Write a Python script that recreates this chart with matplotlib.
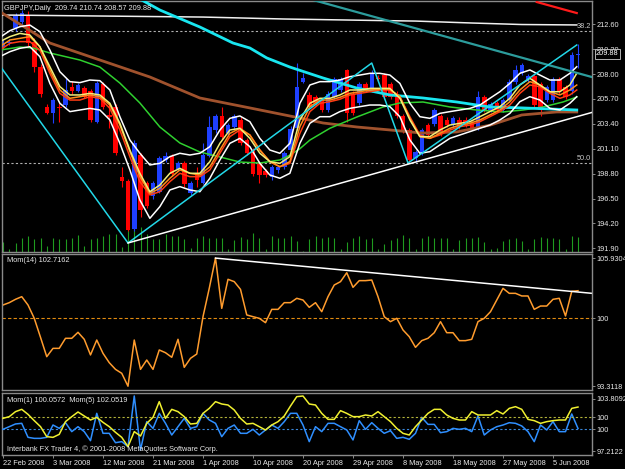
import matplotlib
matplotlib.use("Agg")
import matplotlib.pyplot as plt
from matplotlib.transforms import blended_transform_factory

plt.rcParams['font.family'] = ['Liberation Sans', 'DejaVu Sans']

# ---------------- data ----------------
date_labels = ['22 Feb 2008', '3 Mar 2008', '12 Mar 2008', '21 Mar 2008', '1 Apr 2008',
               '10 Apr 2008', '20 Apr 2008', '29 Apr 2008', '8 May 2008', '18 May 2008',
               '27 May 2008', '5 Jun 2008']
date_bars = [0, 8, 16, 24, 32, 40, 48, 56, 64, 72, 80, 88]

opens = [210.6, 210.9, 212.3, 212.8, 213.5, 211.0, 208.7, 205.0, 204.4, 205.0,
         205.1, 206.8, 206.4, 206.7, 206.4, 203.6, 207.1, 204.2, 205.0, 198.5,
         198.1, 193.7, 200.5, 197.9, 196.7, 197.1, 200.1, 200.4, 199.2, 199.8,
         197.0, 198.8, 197.9, 200.4, 202.8, 204.1, 202.6, 203.1, 203.8, 201.9,
         201.0, 199.8, 199.0, 198.5, 199.1, 199.4, 201.0, 203.0, 207.3, 206.1,
         205.9, 205.6, 204.7, 205.9, 206.5, 208.4, 206.2, 205.3, 207.1, 206.5,
         207.6, 207.9, 207.1, 206.2, 204.1, 202.8, 200.2, 200.7, 203.3, 203.4,
         204.1, 203.8, 203.3, 203.8, 203.8, 203.5, 203.0, 205.9, 204.7, 205.3,
         204.7, 205.6, 207.3, 208.1, 207.5, 207.8, 207.1, 205.6, 205.6, 207.5,
         206.8, 206.4, 209.74]
highs = [211.2, 211.2, 213.6, 213.9, 213.8, 211.3, 208.9, 205.2, 205.8, 205.3,
         207.6, 207.4, 207.2, 206.9, 206.6, 207.4, 207.3, 205.3, 205.2, 199.4,
         198.3, 201.9, 200.7, 198.1, 198.1, 200.4, 200.8, 200.6, 200.0, 200.0,
         198.1, 199.4, 201.6, 204.1, 204.3, 205.0, 203.5, 204.3, 204.0, 202.1,
         201.2, 200.0, 199.2, 199.6, 199.6, 200.9, 203.2, 209.0, 208.1, 206.3,
         206.1, 205.8, 206.4, 207.7, 207.7, 208.5, 206.4, 207.3, 207.3, 208.4,
         207.9, 208.1, 207.3, 206.4, 204.3, 203.0, 201.0, 203.0, 203.5, 204.9,
         204.3, 204.0, 204.1, 204.0, 204.0, 203.7, 206.4, 206.1, 205.4, 205.5,
         205.8, 207.5, 208.8, 209.0, 208.0, 208.0, 207.3, 207.0, 207.7, 207.7,
         207.0, 210.0, 210.74]
lows = [210.3, 210.7, 212.0, 212.6, 210.6, 208.2, 205.9, 204.3, 203.5, 203.6,
        205.0, 206.2, 206.3, 205.8, 203.6, 203.5, 204.8, 203.0, 200.5, 197.6,
        193.5, 193.5, 194.8, 195.6, 196.5, 197.0, 199.9, 198.6, 199.0, 197.6,
        196.8, 197.6, 197.8, 200.3, 202.6, 202.0, 202.4, 202.9, 201.4, 200.5,
        198.6, 197.9, 198.5, 198.2, 198.9, 199.2, 200.8, 202.8, 207.2, 204.8,
        205.1, 204.5, 204.5, 205.7, 206.3, 203.6, 204.2, 205.1, 206.3, 206.3,
        207.3, 205.7, 205.7, 203.9, 202.6, 199.8, 199.9, 200.5, 202.2, 203.2,
        202.3, 203.1, 203.1, 202.9, 203.1, 202.8, 202.8, 204.5, 204.5, 204.5,
        204.5, 205.4, 207.1, 207.9, 207.3, 204.9, 204.1, 205.4, 205.4, 206.2,
        205.7, 206.2, 208.57]
closes = [210.9, 211.0, 213.4, 213.6, 210.9, 208.7, 206.2, 204.4, 205.6, 204.9,
          206.5, 206.4, 207.0, 205.9, 203.8, 207.2, 205.0, 204.0, 200.7, 198.1,
          193.6, 201.6, 195.4, 195.8, 197.9, 200.2, 200.4, 198.8, 199.8, 197.8,
          197.9, 198.2, 200.5, 203.1, 204.1, 202.2, 203.3, 204.1, 201.6, 200.7,
          198.8, 198.7, 198.7, 199.4, 199.4, 200.7, 202.9, 206.8, 207.6, 205.0,
          205.3, 204.7, 206.2, 207.5, 207.5, 204.4, 204.4, 207.1, 206.5, 208.1,
          207.5, 205.9, 205.9, 204.1, 202.8, 200.1, 200.8, 202.8, 202.4, 204.7,
          202.5, 203.3, 203.9, 203.1, 203.3, 203.0, 205.9, 204.7, 205.2, 204.7,
          205.6, 207.3, 208.4, 208.8, 207.8, 205.1, 204.7, 206.8, 207.5, 206.4,
          205.9, 209.8, 209.88]
volumes = [10, 3, 9.3, 14.3, 16, 13, 14.3, 6, 14.3, 13,
           13, 14.3, 17, 6, 13, 14.3, 16, 18.3, 17.7, 5,
           24.3, 23, 25, 18, 13, 13, 18, 16, 16, 13,
           4, 14.3, 16, 14.3, 14.3, 13.7, 3, 11.7, 15, 12.7,
           19, 13.7, 3, 16.3, 14.3, 14.3, 16, 11, 1, 13.3,
           15.7, 14.3, 15, 13.7, 3, 10.3, 14.3, 16, 13, 14.3,
           3, 7.7, 11.7, 13.7, 16.5, 13.7, 3, 14.3, 16, 13.7,
           13.7, 13.7, 3, 11.7, 14.3, 14.3, 15.3, 10.3, 3, 4.3,
           11, 12.7, 13.7, 11, 3, 12.7, 15, 14.3, 13.7, 12.7,
           3, 16, 15]

# smoothed bands / averages sampled along the chart
band_x = [-0.5, 1.1, 2.7, 4.3, 5.9, 7.5, 9.1, 10.7, 12.3, 13.9, 15.5, 17.1, 18.7, 20.3,
          21.9, 23.5, 25.1, 26.7, 28.3, 29.9, 31.5, 33.1, 34.7, 36.3, 37.9, 39.5, 41.1,
          42.7, 44.3, 45.9, 47.5, 49.1, 50.7, 52.3, 53.9, 55.5, 57.1, 58.7, 60.3, 61.9,
          63.5, 65.1, 66.7, 68.3, 69.9, 71.5, 73.1, 74.7, 76.3, 77.9, 79.5, 81.1, 82.7,
          84.3, 85.9, 87.5, 89.1, 90.7, 91.8]
upper_band = [211.39, 212.01, 212.38, 212.53, 211.92, 210.22, 208.22, 207.30, 207.21, 207.45,
              207.39, 206.53, 204.06, 201.91, 200.68, 199.60, 199.75, 200.37, 200.68, 200.52,
              200.68, 201.29, 202.83, 203.91, 204.13, 203.60, 202.06, 200.98, 200.68,
              201.60, 205.30, 206.99, 207.30, 207.30, 207.45, 207.76, 207.91, 208.07, 208.07,
              207.91, 207.14, 205.30, 204.06, 203.91, 204.37, 204.53, 204.68, 204.83, 205.14,
              205.76, 206.37, 207.14, 208.07, 208.38, 207.91, 207.45, 207.45, 208.07, 208.68]
yellow_ma = [211.00, 211.46, 211.76, 211.61, 210.53, 208.68, 206.84, 206.07, 206.07, 206.22,
             206.07, 205.30, 203.45, 200.98, 198.83, 197.13, 197.75, 198.83, 199.29, 198.83,
             198.83, 199.91, 201.60, 202.83, 202.99, 202.06, 200.68, 199.91, 199.75,
             200.37, 203.76, 205.30, 205.76, 205.76, 206.07, 206.53, 206.53, 206.68, 206.68,
             206.68, 205.76, 203.76, 202.22, 202.22, 202.83, 203.29, 203.45, 203.60, 204.06,
             204.53, 204.99, 205.76, 206.99, 207.61, 206.99, 206.37, 206.37, 206.99, 208.07]
orange_ma = [210.53, 211.15, 211.30, 211.46, 210.53, 208.38, 206.53, 205.76, 205.91, 206.07,
             205.91, 205.14, 203.29, 200.83, 198.52, 196.98, 197.44, 198.37, 199.14, 198.83,
             198.67, 199.44, 200.98, 202.52, 202.99, 202.37, 200.98, 199.91, 199.44,
             199.91, 203.14, 204.99, 205.60, 205.60, 205.85, 206.22, 206.37, 206.53, 206.59,
             206.59, 205.91, 203.91, 202.22, 202.06, 202.52, 202.99, 203.29, 203.45, 203.76,
             204.22, 204.68, 205.45, 206.53, 207.30, 206.99, 206.37, 206.07, 206.53, 206.99]
red_ma = [210.22, 210.84, 211.00, 211.00, 210.22, 208.07, 206.22, 205.60, 205.60, 205.91,
          205.76, 204.83, 202.83, 200.37, 198.06, 196.83, 197.13, 198.06, 198.83, 198.52,
          198.52, 199.14, 200.68, 202.22, 202.83, 202.37, 200.98, 199.91, 199.44,
          199.75, 202.52, 204.53, 205.30, 205.45, 205.67, 206.07, 206.22, 206.37, 206.53,
          206.53, 205.91, 204.06, 202.37, 202.06, 202.37, 202.83, 203.14, 203.29, 203.60,
          204.06, 204.53, 205.14, 206.22, 206.99, 206.84, 206.22, 205.76, 206.07, 206.53]
lower_band = [209.61, 210.07, 210.38, 210.53, 209.61, 207.14, 205.30, 204.53, 204.68, 204.83,
              204.68, 203.76, 201.60, 199.14, 196.36, 194.67, 195.75, 197.29, 197.60, 197.29,
              197.13, 198.37, 200.06, 201.60, 202.06, 201.29, 199.75, 198.67, 198.37,
              198.83, 201.60, 203.45, 204.06, 204.06, 204.53, 204.83, 204.99, 205.14, 205.14,
              204.99, 204.06, 201.91, 200.68, 200.83, 201.45, 202.06, 202.37, 202.68, 202.99,
              203.29, 203.76, 204.37, 205.45, 205.91, 205.60, 204.83, 204.68, 205.30, 205.91]

green_x = [-0.5, 2.7, 4.8, 7.5, 12.3, 15.5, 18.7, 21.9, 25.1, 28.3, 31.5, 34.7, 37.9, 41.1,
           44.3, 45.9, 47.5, 49.1, 52.3, 56.6, 60.8, 63.5, 67.2, 71.5, 75.8, 80.0, 83.2, 86.4,
           89.6, 91.8]
green_ma = [210.22, 210.50, 210.41, 209.95, 209.30, 208.65, 207.17, 205.33, 203.11, 201.63,
            200.80, 200.34, 199.87, 199.78, 200.06, 200.50, 201.10, 201.90, 202.99, 204.03,
            204.96, 205.33, 205.42, 204.96, 204.68, 204.50, 204.68, 204.96, 205.42, 205.88]
brown_x = [-0.5, 7.5, 15.5, 23.5, 31.5, 39.5, 47.5, 51.2, 56.6, 62.0, 67.0, 72.6, 78.0,
           83.0, 88.6, 91.8]
brown_ma = [213.77, 210.87, 209.30, 207.73, 205.79, 204.87, 203.94, 203.48, 203.11, 202.83,
            202.55, 202.65, 203.29, 204.22, 204.50, 204.50]
cyan_x = [21.9, 25.1, 31.5, 36.8, 39.5, 42.2, 45.9, 51.2, 56.6, 61.9, 67.2, 72.6, 77.9,
          83.2, 91.8]
cyan_ma = [214.94, 213.92, 212.35, 210.87, 210.41, 209.49, 208.65, 207.64, 206.71, 206.07,
           205.79, 205.42, 204.96, 204.87, 204.68]
white_ma_x = [-0.5, 32, 45, 60, 66, 75, 83, 91.8]
white_ma = [213.46, 213.27, 213.09, 212.95, 212.90, 212.72, 212.58, 212.54]
red_long_x = [85.4, 91.8]
red_long = [214.66, 213.64]

zigzag_x = [-0.5, 20, 59, 64.8, 91.8]
zigzag_y = [208.77, 192.39, 209.02, 199.78, 210.69]
support_x = [20, 94.2]
support_y = [192.39, 204.45]
resist_x = [49.6, 94.2]
resist_y = [214.85, 207.73]
fib_levels = [211.98, 199.76]
fib_names = ['38.2', '50.0']

price_ticks = [191.90, 194.20, 196.50, 198.80, 201.10, 203.40, 205.70, 208.00, 210.30, 212.60]
last_price = 209.88

mom14 = [101.31, 101.54, 101.87, 102.13, 101.31, 100.00, 98.13, 96.22, 97.04, 97.04,
         98.03, 98.03, 98.62, 97.93, 96.39, 97.86, 96.55, 95.63, 94.97, 94.58,
         93.31, 97.86, 94.97, 95.89, 94.97, 96.88, 96.61, 96.16, 97.93, 95.17,
         96.06, 96.48, 100.16, 102.95, 105.93, 100.98, 103.84, 103.61, 102.85, 100.33,
         100.16, 100.00, 99.57, 100.88, 100.88, 101.54, 101.54, 101.97, 101.80, 101.08,
         101.54, 100.65, 102.13, 103.28, 103.61, 104.49, 103.05, 103.71, 103.71, 103.77,
         102.13, 100.16, 99.67, 100.00, 98.85, 98.19, 97.14, 97.80, 98.03, 98.58,
         99.67, 98.58, 98.58, 97.80, 97.80, 97.93, 99.67, 100.00, 100.65, 101.80,
         102.95, 102.46, 102.46, 102.20, 102.20, 100.88, 101.21, 101.21, 101.87, 101.97,
         100.23, 102.65, 102.72]
mom14_tl_x = [34, 94.4]
mom14_tl_y = [105.93, 102.45]

mom1 = [99.96, 100.29, 100.63, 100.71, 98.96, 98.83, 98.83, 98.96, 100.50, 100.08,
        100.79, 99.67, 100.29, 99.67, 98.54, 101.96, 99.46, 99.46, 98.29, 98.42,
        97.79, 104.13, 97.38, 100.92, 100.08, 101.96, 100.71, 99.25, 100.29, 101.33,
        100.08, 100.29, 101.96, 101.13, 100.71, 99.04, 100.08, 100.50, 99.46, 99.46,
        99.96, 99.25, 99.88, 100.50, 100.08, 100.92, 101.96, 101.96, 100.50, 98.42,
        100.29, 99.67, 100.71, 100.71, 100.29, 99.88, 98.63, 101.04, 99.96, 100.79,
        100.08, 99.46, 99.79, 98.83, 98.96, 98.71, 99.46, 101.46, 100.58, 100.58,
        99.54, 99.67, 100.08, 99.96, 100.08, 99.67, 101.63, 99.25, 99.88, 100.29,
        100.50, 100.79, 100.71, 100.38, 99.67, 98.42, 100.50, 99.88, 100.92, 99.67,
        99.67, 101.88, 100.06]
mom5 = [99.79, 100.13, 101.13, 101.59, 100.59, 99.33, 98.13, 96.13, 95.99, 96.59,
        99.13, 100.13, 101.06, 100.26, 99.46, 99.99, 98.99, 98.13, 96.99, 95.99,
        94.13, 97.13, 96.26, 98.79, 99.99, 103.13, 99.79, 101.59, 101.13, 100.13,
        98.66, 98.79, 100.79, 101.79, 103.13, 102.66, 102.46, 101.46, 99.79, 98.66,
        98.79, 98.13, 97.46, 98.46, 99.13, 100.26, 102.26, 104.13, 104.26, 102.66,
        102.46, 100.79, 99.59, 99.59, 101.33, 100.79, 100.13, 100.13, 100.46, 100.26,
        101.13, 100.13, 99.13, 97.79, 96.79, 96.46, 98.13, 99.46, 100.79, 101.59,
        101.59, 100.46, 99.79, 99.46, 99.46, 101.13, 100.46, 100.46, 100.46, 101.33,
        100.66, 101.79, 102.13, 101.59, 99.59, 99.33, 98.79, 99.13, 99.33, 99.46,
        99.46, 101.79, 102.05]

# ---------------- drawing ----------------
W, H = 625, 469
BG = 'black'
FRAME = '#8a8a8a'
TXT = '#e8e8e8'
FS = 5.3
BULL = '#1e40ff'
BEAR = '#ff0000'

fig = plt.figure(figsize=(W / 100, H / 100), dpi=100, facecolor=BG)


def rect(top, bottom):
    return [2 / W, 1 - bottom / H, 590 / W, (bottom - top) / H]


def right_ticks(ax):
    ax.yaxis.tick_right()
    ax.tick_params(axis='y', colors=FRAME, labelcolor=TXT, labelsize=FS,
                   length=2.2, width=0.7, pad=1.2)


def style(ax, ylim):
    ax.set_xlim(-0.16, 94.24)
    ax.set_ylim(*ylim)
    for s in ax.spines.values():
        s.set_color(FRAME)
        s.set_linewidth(1.0)
    right_ticks(ax)
    ax.set_xticks([])


# volumes sit behind the price panel
axv = fig.add_axes(rect(1, 252))
axv.set_facecolor(BG)
axv.set_xlim(-0.16, 94.24)
axv.set_ylim(0, 251)
axv.axis('off')
n = len(closes)
bars = list(range(n))
axv.vlines(bars, 0, volumes, color='#1f9a1f', lw=0.8)

ax1 = fig.add_axes(rect(1, 252))
ax1.set_facecolor('none')
style(ax1, (191.556, 214.754))
ax1.set_yticks(price_ticks)
ax1.set_yticklabels(['%.2f' % t for t in price_ticks])

for lvl in fib_levels:
    ax1.axhline(lvl, color='#b0b0b0', lw=0.8, ls=(0, (2, 2)), zorder=1)
tr = blended_transform_factory(ax1.transAxes, ax1.transData)
for lvl, name in zip(fib_levels, fib_names):
    ax1.text(0.998, lvl + 0.12, name, transform=tr, ha='right', va='bottom',
             color='#c8c8c8', fontsize=FS)

for i in bars:
    o, h, l, c = opens[i], highs[i], lows[i], closes[i]
    col = BULL if c >= o else BEAR
    ax1.vlines(i, l, h, color=col, lw=0.8, zorder=2)
    ax1.bar(i, max(abs(c - o), 0.06), bottom=min(o, c), width=0.72,
            color=col, lw=0, zorder=2)

ax1.plot(white_ma_x, white_ma, color='#f0f0f0', lw=1.1, zorder=3)
ax1.plot(red_long_x, red_long, color='#ff1a1a', lw=1.6, zorder=3)
ax1.plot(brown_x, brown_ma, color='#a0522d', lw=2.0, zorder=3)
ax1.plot(green_x, green_ma, color='#2fd02f', lw=1.1, zorder=3)
ax1.plot(cyan_x, cyan_ma, color='#19e6f0', lw=2.0, zorder=3)
ax1.plot(band_x, upper_band, color='white', lw=1.1, zorder=3)
ax1.plot(band_x, lower_band, color='white', lw=1.1, zorder=3)
ax1.plot(band_x, red_ma, color='#ff3c14', lw=1.1, zorder=3)
ax1.plot(band_x, orange_ma, color='#ff8c1a', lw=1.1, zorder=3)
ax1.plot(band_x, yellow_ma, color='#f2ee7a', lw=1.1, zorder=3)

ax1.plot(resist_x, resist_y, color='#2c9c9c', lw=1.6, zorder=4)
ax1.plot(zigzag_x, zigzag_y, color='#22d8e8', lw=1.1, zorder=4)
ax1.plot(support_x, support_y, color='white', lw=1.1, zorder=4)

ax1.text(1 + 4 / 590, last_price, '%.2f' % last_price, transform=tr, ha='left',
         va='center', color='white', fontsize=FS, clip_on=False,
         bbox=dict(boxstyle='square,pad=0.18', fc='black', ec='#d0d0d0', lw=0.6))
fig.text(4 / W, 1 - 8 / H, 'GBPJPY,Daily  %.2f %.2f %.2f %.2f'
         % (opens[-1], highs[-1], lows[-1], closes[-1]),
         color=TXT, fontsize=FS, va='center', ha='left')

# Momentum(14)
ax2 = fig.add_axes(rect(254, 390))
ax2.set_facecolor(BG)
style(ax2, (92.937, 106.334))
ax2.set_yticks([93.3118, 100, 105.9304])
ax2.set_yticklabels(['93.3118', '100', '105.9304'])
ax2.axhline(100, color='#e08a10', lw=0.8, ls=(0, (3, 2)))
ax2.plot(bars, mom14, color='#ff9c2e', lw=1.1)
ax2.plot(mom14_tl_x, mom14_tl_y, color='white', lw=1.1)
ax2.text(5 / 590, 1 - 6.5 / 136, 'Mom(14) %.4f' % 102.7162, transform=ax2.transAxes,
         color=TXT, fontsize=FS, va='center')

# Momentum(1) and Momentum(5)
ax3 = fig.add_axes(rect(393, 455))
ax3.set_facecolor(BG)
ax3y = ax3.twinx()
style(ax3, (96.75, 104.5))
ax3.set_yticks([97.2122, 100, 103.8092])
ax3.set_yticklabels(['97.2122', '100', '103.8092'])
ax3.axhline(100, color='#3a86d8', lw=0.8, ls=(0, (2, 2)))
ax3.plot(bars, mom1, color='#2f8fff', lw=1.1, zorder=3)

ax3y.set_ylim(92.46, 104.86)
ax3y.set_xlim(-0.16, 94.24)
for s in ax3y.spines.values():
    s.set_visible(False)
right_ticks(ax3y)
ax3y.set_yticks([100])
ax3y.set_yticklabels(['100'])
ax3y.axhline(100, color='#b4b43a', lw=0.8, ls=(0, (2, 2)))
ax3y.plot(bars, mom5, color='#f0f030', lw=1.1, zorder=2)

ax3.set_xticks(date_bars)
ax3.set_xticklabels(date_labels)
ax3.tick_params(axis='x', colors=FRAME, labelcolor=TXT, labelsize=FS,
                length=2.5, width=0.7, pad=1.0)
for lab in ax3.get_xticklabels():
    lab.set_ha('left')
ax3y.text(5 / 590, 1 - 7.5 / 62, 'Mom(1) %.4f  Mom(5) %.4f' % (100.0572, 102.0519),
          transform=ax3y.transAxes, color=TXT, fontsize=FS, va='center', zorder=5)
ax3y.text(5 / 590, 6 / 62, 'Interbank FX Trader 4, \u00a9 2001-2008 MetaQuotes Software Corp.',
          transform=ax3y.transAxes, color=TXT, fontsize=FS, va='center', zorder=5)

fig.savefig('out.png', dpi=100, facecolor=BG)
